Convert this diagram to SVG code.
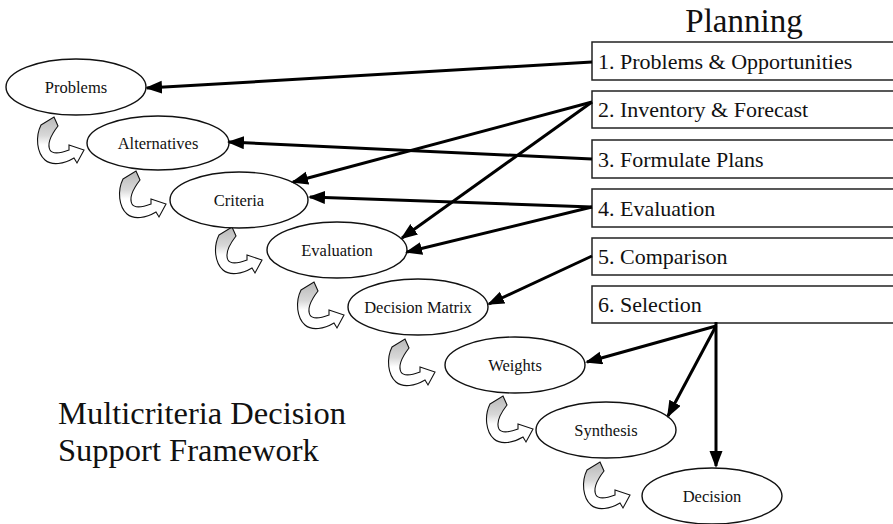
<svg xmlns="http://www.w3.org/2000/svg" xmlns:xlink="http://www.w3.org/1999/xlink" width="893" height="524" viewBox="0 0 893 524">
  <style>
    text { font-family: "Liberation Serif", "Times New Roman", serif; fill: #111; }
    .node ellipse { fill: #fff; stroke: #111; stroke-width: 1.4; }
    .node text { font-size: 16.5px; text-anchor: middle; }
    .step rect { fill: #fff; stroke: #222; stroke-width: 1.5; }
    .step text { font-size: 22px; }
    .link { stroke: #000; stroke-width: 3; fill: none; marker-end: url(#head); }
    .turn { stroke: #111; stroke-width: 1.1; fill: url(#turnFill); }
    .title { font-size: 33px; }
    .caption { font-size: 32.5px; }
  </style>
  <defs>
    <marker id="head" markerUnits="userSpaceOnUse" markerWidth="18" markerHeight="14" refX="15" refY="6.5" orient="auto">
      <path d="M0,0 L17,6.5 L0,13 Z" fill="#000"/>
    </marker>
    <linearGradient id="turnFill" x1="0" y1="0" x2="0" y2="1">
      <stop offset="0" stop-color="#b8b8b8"/>
      <stop offset="0.4" stop-color="#d8d8d8"/>
      <stop offset="0.6" stop-color="#ffffff"/>
    </linearGradient>
    <!-- curved block arrow leading from one stage down to the next -->
    <path id="turn" class="turn" d="M41,125 L54,117 L58,126 C51,135 47,144 50,150 C53,155 61,153 69,150 L69,145 L84,150 L77,163 L74,158 C64,164 52,166 45,160 C37,153 35,137 41,125 Z"/>
  </defs>

  <rect width="893" height="524" fill="#fff"/>

  <!-- planning steps -->
  <text class="title" x="744" y="32" text-anchor="middle">Planning</text>
  <g id="step1" class="step"><rect x="592" y="42" width="320" height="38"/><text x="598" y="69">1. Problems &amp; Opportunities</text></g>
  <g id="step2" class="step"><rect x="592" y="91" width="320" height="37"/><text x="598" y="117">2. Inventory &amp; Forecast</text></g>
  <g id="step3" class="step"><rect x="592" y="140" width="320" height="38"/><text x="598" y="167">3. Formulate Plans</text></g>
  <g id="step4" class="step"><rect x="592" y="189" width="320" height="38"/><text x="598" y="216">4. Evaluation</text></g>
  <g id="step5" class="step"><rect x="592" y="238" width="320" height="37"/><text x="598" y="264">5. Comparison</text></g>
  <g id="step6" class="step"><rect x="592" y="286" width="320" height="37"/><text x="598" y="312">6. Selection</text></g>

  <!-- stage-to-stage curved arrows -->
  <g id="turns">
    <use xlink:href="#turn"/>
    <use xlink:href="#turn" transform="translate(82,54)"/>
    <use xlink:href="#turn" transform="translate(178,110)"/>
    <use xlink:href="#turn" transform="translate(260,165)"/>
    <use xlink:href="#turn" transform="translate(351,222)"/>
    <use xlink:href="#turn" transform="translate(449,279)"/>
    <use xlink:href="#turn" transform="translate(546,345)"/>
  </g>

  <!-- decision stages -->
  <g id="problems" class="node"><ellipse cx="76" cy="87" rx="70" ry="28"/><text x="76" y="93">Problems</text></g>
  <g id="alternatives" class="node"><ellipse cx="158" cy="143" rx="71" ry="27"/><text x="158" y="149">Alternatives</text></g>
  <g id="criteria" class="node"><ellipse cx="239" cy="200" rx="69" ry="28"/><text x="239" y="206">Criteria</text></g>
  <g id="evaluation" class="node"><ellipse cx="337" cy="250" rx="70" ry="28"/><text x="337" y="256">Evaluation</text></g>
  <g id="decision-matrix" class="node"><ellipse cx="418" cy="307" rx="70" ry="28"/><text x="418" y="313">Decision Matrix</text></g>
  <g id="weights" class="node"><ellipse cx="515" cy="365" rx="70" ry="28"/><text x="515" y="371">Weights</text></g>
  <g id="synthesis" class="node"><ellipse cx="606" cy="430" rx="70" ry="28"/><text x="606" y="436">Synthesis</text></g>
  <g id="decision" class="node"><ellipse cx="712" cy="496" rx="70" ry="28"/><text x="712" y="502">Decision</text></g>

  <!-- links from planning steps to stages -->
  <g id="links">
    <line class="link" x1="592" y1="62" x2="147" y2="88"/>
    <line class="link" x1="592" y1="102" x2="293" y2="182"/>
    <line class="link" x1="592" y1="102" x2="402" y2="238"/>
    <line class="link" x1="592" y1="159" x2="229" y2="142"/>
    <line class="link" x1="592" y1="207" x2="310" y2="197"/>
    <line class="link" x1="592" y1="207" x2="407" y2="252"/>
    <line class="link" x1="592" y1="256" x2="489" y2="304"/>
    <line class="link" x1="716" y1="326" x2="587" y2="362"/>
    <line class="link" x1="716" y1="326" x2="668" y2="416"/>
    <line class="link" x1="716" y1="322" x2="716" y2="466"/>
  </g>

  <text class="caption" x="58" y="424">Multicriteria Decision</text>
  <text class="caption" x="58" y="461">Support Framework</text>
</svg>
